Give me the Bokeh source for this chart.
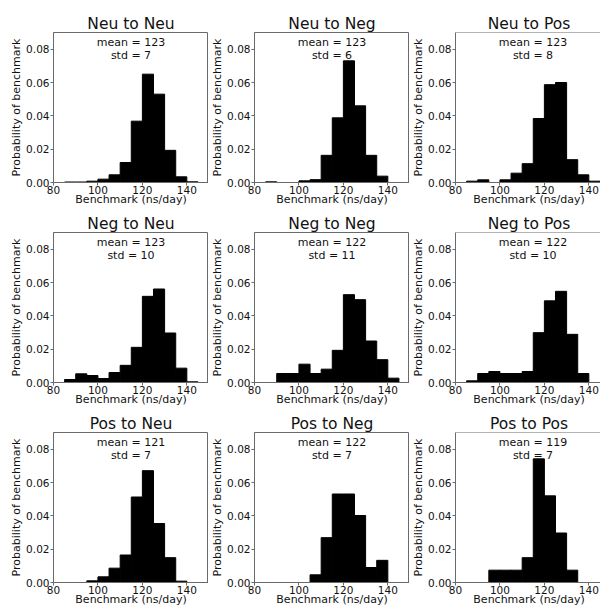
from bokeh.plotting import figure
from bokeh.layouts import gridplot
from bokeh.models import FixedTicker, PrintfTickFormatter, Span, Range1d, ColumnDataSource
from bokeh.core.properties import value
from bokeh.embed import file_html
from bokeh.resources import INLINE

# ---------------- data ----------------
TITLES = ["Neu to Neu", "Neu to Neg", "Neu to Pos",
          "Neg to Neu", "Neg to Neg", "Neg to Pos",
          "Pos to Neu", "Pos to Neg", "Pos to Pos"]
MEANS = [123, 123, 123, 123, 122, 122, 121, 122, 119]
STDS = [7, 6, 8, 10, 11, 10, 7, 7, 7]

BIN_EDGES = [85, 90, 95, 100, 105, 110, 115, 120, 125, 130, 135, 140, 145]

neu_neu = [0.0003, 0.0003, 0.0008, 0.0020, 0.0046, 0.0120, 0.0368, 0.0650, 0.0530, 0.0193, 0.0034, 0.0004]
neu_neg = [0.0004, 0.0, 0.0, 0.0010, 0.0017, 0.0163, 0.0388, 0.0730, 0.0460, 0.0163, 0.0038, 0.0]
neu_pos = [0.0008, 0.0016, 0.0, 0.0016, 0.0056, 0.0113, 0.0384, 0.0587, 0.0600, 0.0137, 0.0046, 0.0008]
neg_neu = [0.0018, 0.0052, 0.0042, 0.0024, 0.0060, 0.0103, 0.0211, 0.0517, 0.0561, 0.0297, 0.0086, 0.0004]
neg_neg = [0.0, 0.0054, 0.0054, 0.0110, 0.0054, 0.0080, 0.0193, 0.0527, 0.0497, 0.0249, 0.0137, 0.0026]
neg_pos = [0.0010, 0.0054, 0.0066, 0.0054, 0.0054, 0.0066, 0.0299, 0.0490, 0.0547, 0.0289, 0.0054, 0.0]
pos_neu = [0.0, 0.0, 0.0010, 0.0034, 0.0086, 0.0165, 0.0513, 0.0671, 0.0354, 0.0149, 0.0008, 0.0]
pos_neg = [0.0, 0.0, 0.0, 0.0, 0.0046, 0.0269, 0.0531, 0.0531, 0.0402, 0.0090, 0.0133, 0.0]
pos_pos = [0.0, 0.0, 0.0074, 0.0074, 0.0074, 0.0149, 0.0742, 0.0520, 0.0297, 0.0074, 0.0, 0.0]

HEIGHTS = [neu_neu, neu_neg, neu_pos, neg_neu, neg_neg, neg_pos, pos_neu, pos_neg, pos_pos]

X_TICKS = [80, 100, 120, 140]
Y_TICKS = [0.0, 0.02, 0.04, 0.06, 0.08]
X_LABEL = "Benchmark (ns/day)"
Y_LABEL = "Probability of benchmark"

# ---------------- style / layout ----------------
FONT = "DejaVu Sans"
XMIN, XMAX_FULL = 80, 149.75
YMAX = 0.09
FRAME_W = 155
COL3_FRAME_W = 147
FRAME_H = 150
LEFTS = [53, 45, 45]
TOPS = [32, 24, 24]
BOTTOM = 26
LINE = "#6a6a6a"
TXT = "#111111"


def make_panel(i):
    col, row = i % 3, i // 3
    fw = COL3_FRAME_W if col == 2 else FRAME_W
    xmax = XMIN + (XMAX_FULL - XMIN) * fw / FRAME_W
    p = figure(frame_width=fw, frame_height=FRAME_H,
               x_range=Range1d(XMIN, xmax), y_range=Range1d(0, YMAX),
               output_backend="svg", toolbar_location=None,
               min_border_left=LEFTS[col], min_border_right=0,
               min_border_top=TOPS[row], min_border_bottom=BOTTOM,
               title=TITLES[i])
    p.title.text_font = FONT
    p.title.text_font_size = "15.5px"
    p.title.text_font_style = "normal"
    p.title.text_color = TXT
    p.title.align = "center"
    p.title.standoff = 0
    p.title.offset = 0

    h = HEIGHTS[i]
    left = [BIN_EDGES[k] for k in range(len(h)) if h[k] > 0]
    right = [BIN_EDGES[k + 1] for k in range(len(h)) if h[k] > 0]
    top = [h[k] for k in range(len(h)) if h[k] > 0]
    src = ColumnDataSource(dict(left=left, right=right, top=top))
    p.quad(left="left", right="right", bottom=0, top="top", source=src,
           fill_color="black", line_color="black", line_width=1)

    xc = (XMIN + XMAX_FULL) / 2
    per_px = YMAX / FRAME_H
    p.text(x=[xc, xc], y=[YMAX - 10.3 * per_px, YMAX - 22.8 * per_px],
           text=["mean = %d" % MEANS[i], "std = %d" % STDS[i]],
           text_align="center", text_baseline="alphabetic",
           text_font=value(FONT), text_font_size="11px", text_color=TXT)

    p.xgrid.visible = False
    p.ygrid.visible = False
    p.xaxis.ticker = FixedTicker(ticks=X_TICKS)
    p.yaxis.ticker = FixedTicker(ticks=Y_TICKS)
    p.yaxis.formatter = PrintfTickFormatter(format="%.2f")
    p.xaxis.axis_label = X_LABEL
    p.yaxis.axis_label = Y_LABEL
    for ax in (p.xaxis, p.yaxis):
        ax.axis_line_color = LINE
        ax.major_tick_line_color = LINE
        ax.major_tick_in = 0
        ax.major_tick_out = 3
        ax.minor_tick_in = 0
        ax.minor_tick_out = 0
        ax.major_label_text_font = FONT
        ax.major_label_text_font_size = "10.5px"
        ax.major_label_text_color = TXT
        ax.axis_label_text_font = FONT
        ax.axis_label_text_font_size = "11px"
        ax.axis_label_text_font_style = "normal"
        ax.axis_label_text_color = TXT
    p.yaxis.major_label_standoff = 1
    p.xaxis.major_label_standoff = 0
    p.xaxis.axis_label_standoff = -4
    p.yaxis.axis_label_standoff = 0

    if col == 2:
        p.outline_line_color = None
        p.add_layout(Span(location=YMAX, dimension="width", line_color=LINE, line_width=1))
    else:
        p.outline_line_color = LINE
        p.outline_line_width = 1
    p.background_fill_color = "white"
    p.border_fill_color = "white"
    return p


panels = [make_panel(i) for i in range(9)]
grid = gridplot([panels[0:3], panels[3:6], panels[6:9]], toolbar_location=None)

open("out.html", "w").write(file_html(grid, INLINE))
